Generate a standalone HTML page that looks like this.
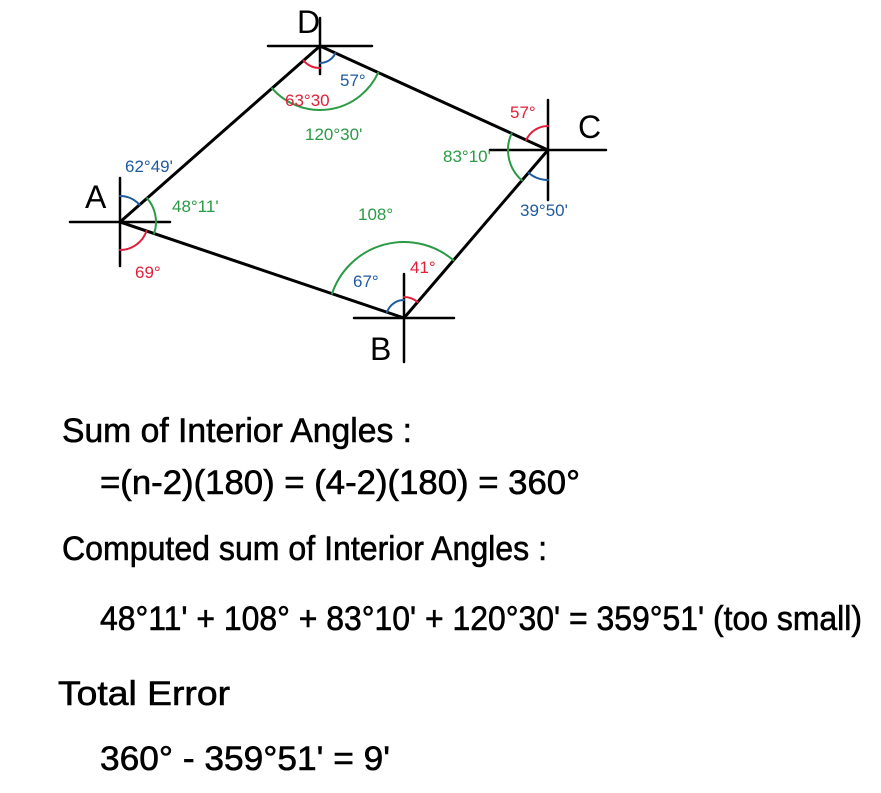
<!DOCTYPE html>
<html><head><meta charset="utf-8"><style>
html,body{margin:0;padding:0;background:#fff;}
svg{display:block;font-family:"Liberation Sans",sans-serif;}
</style></head><body>
<svg id="s" width="881" height="793" viewBox="0 0 881 793" xmlns="http://www.w3.org/2000/svg">
<g id="g" stroke-linecap="round" fill="none"></g>
<g fill="#000" stroke="#000" stroke-width="0.6" font-size="34">
<text x="62" y="442" textLength="350" lengthAdjust="spacingAndGlyphs">Sum of Interior Angles :</text>
<text x="100" y="494" textLength="480" lengthAdjust="spacingAndGlyphs">=(n-2)(180) = (4-2)(180) = 360°</text>
<text x="62" y="560" textLength="485" lengthAdjust="spacingAndGlyphs">Computed sum of Interior Angles :</text>
<text x="100" y="630" textLength="762" lengthAdjust="spacingAndGlyphs">48°11' + 108° + 83°10' + 120°30' = 359°51' (too small)</text>
<text x="58" y="705" textLength="172" lengthAdjust="spacingAndGlyphs">Total Error</text>
<text x="100" y="770" textLength="290" lengthAdjust="spacingAndGlyphs">360° - 359°51' = 9'</text>
</g>
</svg>
<script>
const pointNames=['A','B','C','D'];
const pointX=[120,404,548,320];
const pointY=[222,318,150,46];
const labelX=[85,370,578,297];
const labelY=[208,360,138,33];
const angleText=['57°','63°30','120°30\'','62°49\'','48°11\'','69°','57°','83°10\'','39°50\'','108°','67°','41°'];
const angleColor=['b','r','g','b','g','r','r','g','b','g','b','r'];
const angleLX=[340,285,305,125,172,135,510,443,520,358,353,410];
const angleLY=[86,106,140,172,212,278,118,162,216,220,287,273];
const C={r:'#e0203a',b:'#1f5a9e',g:'#2a9a45'};
const g=document.getElementById('g'),s=document.getElementById('s');
const NS='http://www.w3.org/2000/svg';
function mk(t,a){const e=document.createElementNS(NS,t);for(const k in a)e.setAttribute(k,a[k]);return e;}
const order=[0,3,2,1];
let d='M'+order.map(i=>pointX[i]+' '+pointY[i]).join(' L')+' Z';
const poly=mk('path',{d:d,stroke:'#000','stroke-width':3});


g.appendChild(poly);
const hx=[50,50,58,52],vy=[44,44,50,28];
for(let i=0;i<4;i++){
 const c=mk('path',{d:`M${pointX[i]-hx[i]} ${pointY[i]}H${pointX[i]+hx[i]}M${pointX[i]} ${pointY[i]-vy[i]}V${pointY[i]+vy[i]}`,stroke:'#000','stroke-width':2.5});
 
 
 g.appendChild(c);
 const t=mk('text',{x:labelX[i],y:labelY[i],'font-size':32,fill:'#000',stroke:'none'});
 t.textContent=pointNames[i];
 
 
 s.appendChild(t);
}
function ang(i,j){return Math.atan2(pointY[j]-pointY[i],pointX[j]-pointX[i]);}
const UP=-Math.PI/2,DOWN=Math.PI/2;
const arcs=[
 [3,ang(3,0),DOWN,22,'r'],[3,DOWN,ang(3,2),17,'b'],[3,ang(3,0),ang(3,2),64,'g'],
 [0,UP,ang(0,3),26,'b'],[0,ang(0,3),ang(0,1),36,'g'],[0,ang(0,1),DOWN,28,'r'],
 [2,UP,ang(2,3),24,'r'],[2,ang(2,3),ang(2,1),40,'g'],[2,ang(2,1),DOWN,30,'b'],
 [1,ang(1,0),UP,18,'b'],[1,UP,ang(1,2),21,'r'],[1,ang(1,0),ang(1,2),76,'g']];
arcs.forEach((a,k)=>{
 let [v,a1,a2,r,c]=a;
 let diff=a2-a1;while(diff<0)diff+=2*Math.PI;while(diff>2*Math.PI)diff-=2*Math.PI;
 let sw=1;if(diff>Math.PI){diff=2*Math.PI-diff;sw=0;}
 const x1=pointX[v]+r*Math.cos(a1),y1=pointY[v]+r*Math.sin(a1);
 const x2=pointX[v]+r*Math.cos(a2),y2=pointY[v]+r*Math.sin(a2);
 const p=mk('path',{d:`M${x1} ${y1}A${r} ${r} 0 0 ${sw} ${x2} ${y2}`,stroke:C[c],'stroke-width':2});
 
 
 g.appendChild(p);
});
for(let i=0;i<angleText.length;i++){
 const t=mk('text',{x:angleLX[i],y:angleLY[i],'font-size':17,fill:C[angleColor[i]]});
 t.textContent=angleText[i];
 
 
 s.appendChild(t);
}
</script>
</body></html>
